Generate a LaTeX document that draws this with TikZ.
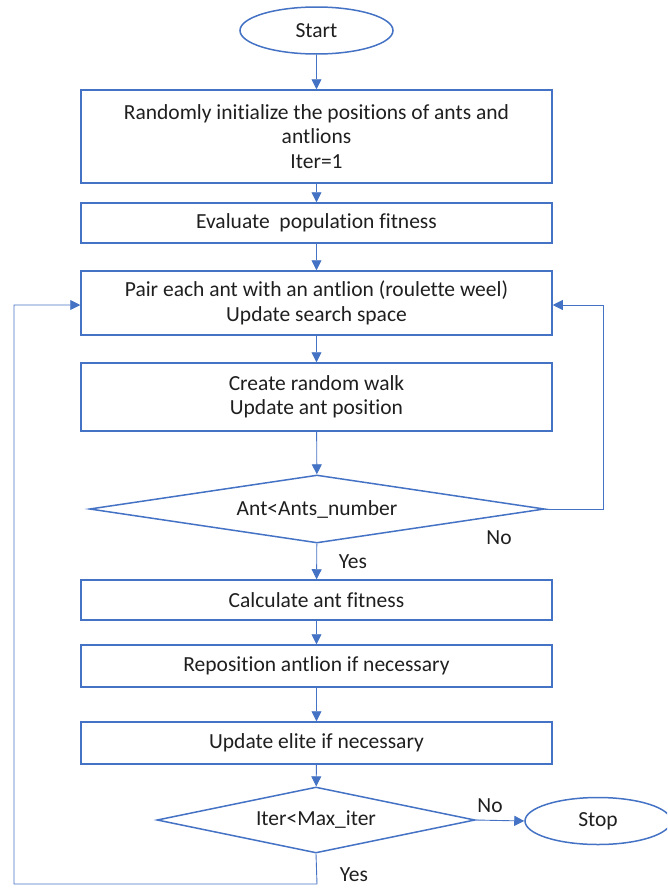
\documentclass[tikz,border=0pt]{standalone}
\usepackage{fontspec}
\setmainfont[Ligatures={NoCommon}]{Carlito}
\usetikzlibrary{shapes.geometric,arrows.meta}
\definecolor{fblue}{HTML}{4472C4}
\begin{document}
\begin{tikzpicture}[x=1pt,y=-1pt,
  every node/.style={font=\fontsize{21.5}{24.5}\selectfont, text=black!88},
  procbox/.style={draw=fblue, line width=1.5pt, minimum width=471pt, align=center, inner sep=2pt},
  decision/.style={draw=fblue, line width=1.5pt, diamond, inner sep=0pt, shape aspect=6.7},
  terminal/.style={draw=fblue, line width=1.5pt, ellipse, inner sep=0pt},
  conn/.style={draw=fblue, line width=0.9pt, -{Triangle[length=10pt,width=10pt]}},
  lbl/.style={inner sep=0pt}]
\useasboundingbox (0,0) rectangle (667,889);
\begin{scope}
\clip (0,0) rectangle (667,889);
\node[terminal, minimum width=153pt, minimum height=47pt] (start) at (316.5,30.5) {Start};
\node[procbox, minimum height=93pt] (b1) at (316.5,136.5) {Randomly initialize the positions of ants and\\antlions\\Iter=1};
\node[procbox, minimum height=40pt] (b2) at (316.5,223) {Evaluate\ \ population fitness};
\node[procbox, minimum height=64pt] (b3) at (316.5,303) {Pair each ant with an antlion (roulette weel)\\Update search space};
\node[procbox, minimum height=68pt] (b4) at (316.5,397) {Create random walk\\Update ant position};
\node[decision, minimum width=455pt, minimum height=68pt] (d1) at (317,509) {Ant<Ants\_number};
\node[procbox, minimum height=40pt] (b5) at (316.5,600) {Calculate ant fitness};
\node[procbox, minimum height=42pt] (b6) at (316.5,666) {Reposition antlion if necessary};
\node[procbox, minimum height=42pt] (b7) at (316.5,743) {Update elite if necessary};
\node[decision, minimum width=318pt, minimum height=66pt] (d2) at (316,820) {Iter<Max\_iter};
\node[terminal, minimum width=146pt, minimum height=47pt] (stop) at (598,821) {Stop};
\end{scope}

\coordinate (nr) at (603,509);
\coordinate (nrt) at (603,305);
\coordinate (yb) at (317,884);
\coordinate (ybl) at (14,884);
\coordinate (ytl) at (14,305);

\draw[conn] (start) -- (b1);
\draw[conn] (b1) -- (b2);
\draw[conn] (b2) -- (b3);
\draw[conn] (b3) -- (b4);
\draw[conn] (b4) -- (d1);
\draw[conn] (d1) -- (b5);
\draw[conn] (b5) -- (b6);
\draw[conn] (b6) -- (b7);
\draw[conn] (b7) -- (d2);
\draw[conn] (d2.east) -- (stop.west);
\draw[conn] (d1.east) -- (nr) -- (nrt) -- (b3.east |- nrt);
\draw[conn] (d2.south) -- (yb) -- (ybl) -- (ytl) -- (b3.west |- ytl);

\node[lbl] (no1) at (499,538) {No};
\node[lbl] (yes1) at (353,562) {Yes};
\node[lbl] (no2) at (490,806) {No};
\node[lbl] (yes2) at (354,875) {Yes};
\end{tikzpicture}
\end{document}
